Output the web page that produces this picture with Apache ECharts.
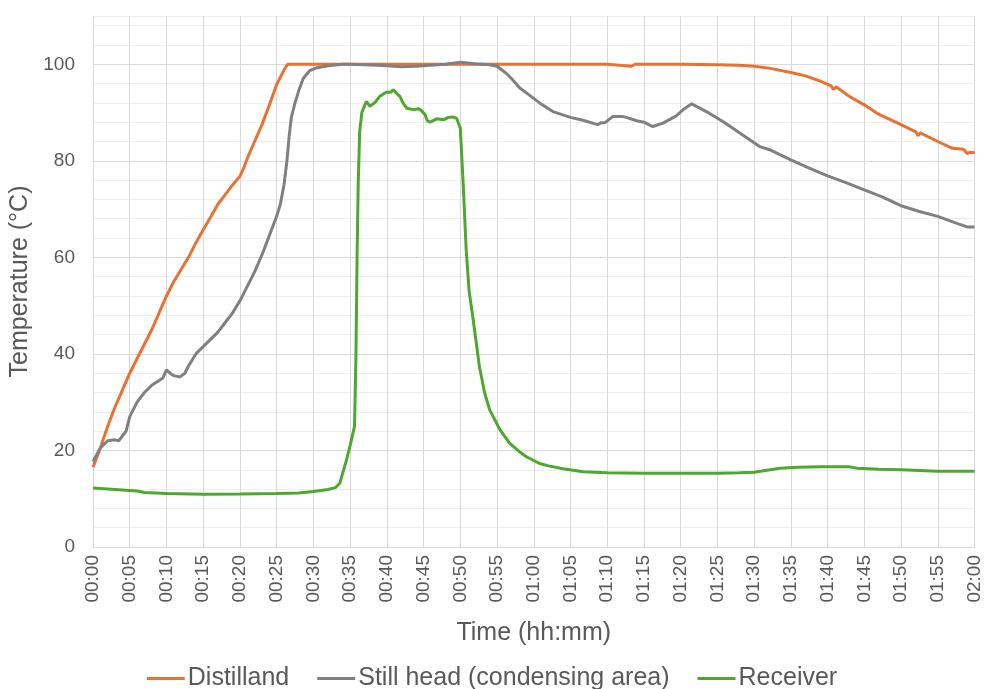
<!DOCTYPE html>
<html>
<head>
<meta charset="utf-8">
<script src="https://cdn.jsdelivr.net/npm/echarts@6/dist/echarts.min.js"></script>
<style>
html,body{margin:0;padding:0;background:#fff;}
#chart{width:984px;height:689px;}
</style>
</head>
<body>
<div id="chart"></div>
<script>
// ---- Data (time in minutes from start, temperature in °C) ----
const seriesNames = ['Distilland', 'Still head (condensing area)', 'Receiver'];

const distillandTime = [0,0.5,1,2,3,4,5,6,7,8,9,10,11,12,13,14,15,16,17,18,19,20,20.6,21,22,23,24,25,26,26.5,27,30,35,40,45,50,55,60,65,70,73.3,73.5,73.8,75,80,85,88,90,92,95,97,99,100.5,100.8,101.2,103,105,107,110,112,112.3,112.6,115,117,118.5,119,119.3,120];
const distillandTemp = [16.5,18.5,20.5,25,29,32.5,36,39,42,45,48.5,52,55,57.5,60,63,65.7,68.3,71,73,75,76.8,78.8,80.5,84,87.5,91.5,95.8,98.8,100,100,100,100,100,100,100,100,100,100,100,99.6,99.8,100,100,100,99.9,99.8,99.6,99.2,98.3,97.6,96.5,95.5,94.8,95.3,93.3,91.6,89.6,87.5,86,85.2,85.8,84,82.6,82.4,81.5,81.7,81.7];

const stillHeadTime = [0,1,2,3,3.5,4,4.5,5,6,7,8,9,9.5,10,10.5,11,11.8,12.5,13,14,15,16,17,18,19,20,21,22,23,24,25,25.5,26,26.4,26.7,27,27.5,28,28.6,29.5,30.5,32,34,35,37,40,42,44,46,48,50,52,54,55,56.2,57,58.1,59.5,60.8,62.6,65,66.7,68.7,69.2,69.7,70.8,72,72.6,74,75,76.2,77.6,79.4,80.5,81.5,83.5,85.8,88,90.7,92.1,95,97.5,100,102.5,105,107.5,110,112.5,115,117.7,119,120];
const stillHeadTemp = [17.7,20.5,22,22.2,22,23,24,27,30,32,33.5,34.5,35,36.7,36,35.5,35.2,36,37.5,40,41.5,43,44.5,46.5,48.5,51,54,57,60.5,64.5,68.5,71,75,80,85,89,92,94.5,97,98.7,99.3,99.7,100,100,99.9,99.7,99.5,99.6,99.8,100,100.4,100.1,99.9,99.6,98.2,97,95.1,93.5,92,90.2,89,88.4,87.5,87.9,87.9,89.2,89.2,89,88.3,88,87.1,87.8,89.3,90.8,91.8,90.2,88.1,85.8,83,82.3,80.2,78.5,76.9,75.5,74,72.5,70.7,69.5,68.5,67,66.3,66.3];

const receiverTime = [0,3,6,7,10,15,20,25,28,30,32,33,33.6,34.5,35,35.6,35.8,35.95,36.1,36.3,36.6,37.2,37.7,38.4,39,39.9,40.5,40.9,41.3,41.8,42.2,42.7,43.6,44.3,44.7,45.2,45.5,45.9,46.8,47.7,48.4,49,49.5,50,50.4,50.8,51.2,51.7,52.6,53.3,54,55.4,56.7,58,59,60.8,62,64,66.7,70,75,80,85,88,90,93.5,96,99,103,104,107,110,115,120];
const receiverTemp = [12.2,11.9,11.6,11.3,11.1,10.95,11,11.1,11.2,11.5,11.9,12.3,13.2,18,21,25,40,60,75,86,90,92.3,91.3,92.1,93.3,94.2,94.2,94.7,94,93.3,92,90.9,90.6,90.8,90.4,89.6,88.3,88,88.7,88.5,89,89.1,88.8,86.8,75,61.6,53,47.7,37.4,32,28.4,24.3,21.5,19.8,18.7,17.3,16.8,16.2,15.6,15.4,15.3,15.3,15.3,15.4,15.5,16.3,16.5,16.6,16.6,16.3,16.1,16,15.7,15.7];

const seriesColors = ['#E97132', '#808080', '#4EA72E'];

function zip(t, v) { return t.map((x, i) => [x, v[i]]); }
function hhmm(v) {
  const h = Math.floor(v / 60), m = Math.round(v % 60);
  return String(h).padStart(2, '0') + ':' + String(m).padStart(2, '0');
}

const font = '"Liberation Sans", Arial, sans-serif';
const chart = echarts.init(document.getElementById('chart'), null, {renderer: 'canvas'});

const seriesData = [
  zip(distillandTime, distillandTemp),
  zip(stillHeadTime, stillHeadTemp),
  zip(receiverTime, receiverTemp)
];

chart.setOption({
  animation: false,
  backgroundColor: '#ffffff',
  textStyle: {fontFamily: font},
  grid: {left: 93, right: 9, top: 16, bottom: 142, containLabel: false},
  xAxis: {
    type: 'value', min: 0, max: 120, interval: 5,
    name: 'Time (hh:mm)', nameLocation: 'middle', nameGap: 74, nameMoveOverlap: false,
    nameTextStyle: {fontSize: 25, color: '#595959', fontFamily: font},
    axisLine: {show: true, lineStyle: {color: '#d9d9d9', width: 1}},
    axisTick: {show: false},
    axisLabel: {rotate: 90, fontSize: 19, color: '#595959', margin: 8, fontFamily: font, formatter: hhmm},
    splitLine: {show: true, lineStyle: {color: '#d9d9d9', width: 1}}
  },
  yAxis: {
    type: 'value', min: 0, max: 110, interval: 4,
    name: 'Temperature (°C)', nameLocation: 'middle', nameGap: 60, nameMoveOverlap: false,
    nameTextStyle: {fontSize: 25, color: '#595959', fontFamily: font},
    axisLine: {show: false},
    axisTick: {show: false},
    axisLabel: {fontSize: 19, color: '#595959', margin: 18, fontFamily: font,
      formatter: v => (v % 20 === 0 ? String(v) : '')},
    splitLine: {show: true, lineStyle: {color: ['#d9d9d9', '#efefef', '#efefef', '#efefef', '#efefef'], width: 1}}
  },
  legend: {
    data: seriesNames, top: 661, left: 'center',
    icon: 'rect', itemWidth: 38, itemHeight: 3, itemGap: 28,
    textStyle: {fontSize: 25, color: '#595959', fontFamily: font, padding: [0, 0, 0, -2]}
  },
  series: seriesNames.map((n, i) => ({
    name: n, type: 'line', data: seriesData[i], showSymbol: false, symbol: 'none',
    lineStyle: {color: seriesColors[i], width: 3}, itemStyle: {color: seriesColors[i]},
    smooth: false
  }))
});
</script>
</body>
</html>
